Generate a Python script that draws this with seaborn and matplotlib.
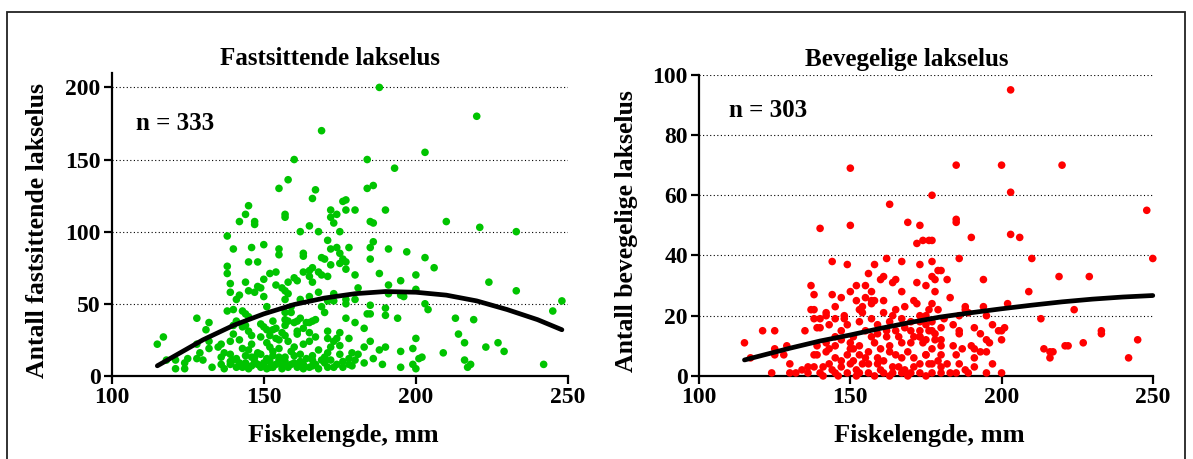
import matplotlib
matplotlib.use("Agg")
import matplotlib.pyplot as plt
import seaborn as sns
import pandas as pd
from matplotlib.patches import Rectangle

# ---------------- data ----------------
fast_x = [188,220,169,203,160,184,193,158,155,167,184,186,166,176,177,145,172,177,180,190,
          144,157,157,174,172,142,147,147,173,185,186,210,221,165,162,168,175,233,138,171,
          186,150,185,146,140,155,172,174,178,191,197,175,155,163,163,169,170,176,185,203,
          145,148,177,138,175,172,206,177,166,165,154,152,138,163,168,188,169,180,200,150,
          160,161,165,171,166,144,158,195,224,139,154,191,148,149,156,181,157,145,147,139,
          168,233,150,200,158,191,195,196,165,173,141,142,157,162,171,173,177,180,177,185,
          203,204,248,245,190,151,159,169,143,144,157,159,138,140,184,185,190,145,194,213,
          219,128,157,166,167,164,165,132,141,158,160,161,180,144,143,157,149,150,183,131,
          151,153,154,171,140,161,161,152,165,214,146,171,174,178,200,132,139,142,154,155,
          157,165,173,185,216,227,151,136,115,117,128,132,135,175,223,199,183,190,188,195,
          229,171,209,129,137,145,153,159,179,181,202,201,216,186,125,128,144,147,149,155,
          160,166,118,121,124,130,140,142,152,157,162,169,178,180,189,199,218,242,121,124,
          133,136,139,141,143,146,148,150,151,153,156,159,163,165,167,173,176,179,183,195,
          200,217,
          137,139,142,144,145,147,149,150,152,154,155,156,158,160,161,163,164,166,168,170,
          171,172,174,176,178,146,151,153,157,162,166,170,136,139,141,148,155,160,163,168,
          175,172,158,152,146,143,149,156,163,167,140,145,153,162,175,177,170]
fast_y = [200,180,170,155,150,150,144,136,130,129,130,132,123,121,122,118,115,115,115,115,
          112,112,110,112,110,107,107,105,106,107,106,107,103,104,100,100,100,100,97,94,
          93,91,89,89,88,88,88,89,89,88,86,85,84,85,83,82,81,81,81,82,
          79,79,79,76,78,77,75,74,75,73,72,71,71,72,72,71,70,70,70,67,
          68,66,69,69,65,65,65,66,65,64,63,63,62,61,61,61,59,59,58,58,
          58,59,55,60,57,57,56,55,55,57,53,56,53,53,52,52,53,53,50,49,
          50,46,52,45,47,48,48,48,45,43,44,44,45,46,43,43,42,41,40,40,
          39,40,39,38,39,37,37,37,38,38,37,38,37,35,34,35,36,34,33,32,
          32,32,33,31,29,31,29,28,30,29,28,26,26,26,26,24,24,25,26,25,
          28,24,24,24,23,23,23,22,22,27,22,19,20,21,20,19,20,20,18,17,
          17,16,16,16,16,18,17,17,16,15,13,12,11,12,12,12,14,13,15,13,
          14,11,11,11,9,11,11,9,10,10,10,11,8,11,8,8,8,8,5,5,
          6,8,8,6,6,7,8,7,5,6,5,8,5,6,8,6,6,7,9,6,
          5,6,
          5,10,7,9,5,10,6,9,6,8,11,7,6,9,6,8,12,7,5,9,
          6,11,8,10,12,13,12,14,13,15,14,13,13,15,12,16,19,20,22,18,
          15,20,24,20,22,19,27,30,33,27,35,31,38,40,30,40,44]

bev_x = [150,177,163,140,150,169,173,172,174,176,177,
         203,185,200,220,203,248,185,185,190,203,206,186,210,250,
         144,149,158,162,167,173,177,179,156,161,160,165,164,177,178,152,155,172,175,137,
         138,144,150,157,167,147,155,157,158,161,171,157,172,137,138,142,145,154,153,161,
         165,168,176,138,140,142,148,148,154,157,163,167,170,174,177,139,140,149,153,159,
         121,125,135,162,165,170,173,176,115,117,125,125,129,128,145,145,150,151,158,157,
         162,163,167,170,173,174,139,142,150,151,156,163,165,175,177,138,139,142,145,149,
         151,155,159,167,173,130,136,138,141,143,147,150,154,156,159,164,166,176,124,130,
         132,136,140,145,149,153,156,161,164,167,170,173,177,
         180,182,194,219,229,178,209,183,177,202,188,194,179,188,189,224,173,175,186,195,
         213,173,175,184,197,201,180,191,177,186,199,200,186,233,233,173,175,178,180,195,
         200,245,180,184,190,196,221,222,227,191,193,195,214,216,217,216,242,175,180,185,
         191,177,180,188,191,180,183,185,189,195,200,
         141,146,152,158,163,169,175,134,144,152,160,168,171,147,153,161,169,171,143,147,
         153,160,166,171,155,159,143,147,164,152,145,168,178,179,182,187,186,197,193,181]
bev_y = [69,60,57,49,50,51,50,44,45,45,45,
         95,70,70,70,61,55,52,51,46,47,46,39,39,39,
         38,37,37,39,38,37,38,35,34,33,32,32,31,33,32,30,30,31,30,30,
         27,27,28,28,28,26,26,25,25,25,25,24,24,22,22,21,23,23,22,21,
         22,23,22,19,19,20,20,19,21,19,18,19,18,19,18,16,16,17,18,17,
         15,15,15,15,15,15,15,15,11,6,9,7,10,7,13,10,11,13,11,13,
         13,10,11,11,13,11,10,11,9,9,8,8,7,7,9,7,7,8,6,7,
         5,6,6,6,4,4,3,3,3,4,3,4,4,4,4,3,3,4,1,1,
         1,1,1,1,1,1,1,1,1,1,1,1,1,
         35,32,32,33,33,28,28,26,24,24,23,23,22,22,21,22,20,20,20,20,
         19,18,17,17,17,16,16,16,15,15,15,15,14,15,14,13,12,12,12,12,
         12,12,10,10,10,11,10,10,11,9,8,8,9,8,8,6,6,7,7,7,
         6,4,3,2,3,1,1,1,1,1,1,
         0,0,0,0,0,0,0,2,2,2,2,2,3,5,7,5,8,6,9,12,
         10,9,13,13,15,14,17,15,20,25,19,16,14,5,4,9,4,4,14,19]

fit_fast_x = [115,120,130,140,150,160,170,180,190,200,210,220,230,240,248]
fit_fast_y = [7,13,25,35,43,49.5,54,57,58.5,58,56,52,46,39,32]
fit_bev_x = [115,120,130,140,150,160,170,180,190,200,210,220,230,240,250]
fit_bev_y = [5.3,6.6,9.2,11.6,13.6,15.8,17.8,19.6,21.0,22.3,23.5,24.6,25.5,26.2,26.7]

titles = ["Fastsittende lakselus", "Bevegelige lakselus"]
ylabels = ["Antall fastsittende lakselus", "Antall bevegelige lakselus"]
xlabel = "Fiskelengde, mm"
n_labels = ["n = 333", "n = 303"]
x_ticks = [100, 150, 200, 250]
fast_yticks = [0, 50, 100, 150, 200]
bev_yticks = [0, 20, 40, 60, 80, 100]

# ---------------- style ----------------
sns.set_theme(style="white")
plt.rcParams['font.family'] = ['Liberation Serif', 'DejaVu Serif']
plt.rcParams['font.weight'] = 'bold'
plt.rcParams['axes.labelweight'] = 'bold'
plt.rcParams['axes.titleweight'] = 'bold'

fig = plt.figure(figsize=(11.93, 4.59), dpi=100)
fig.patch.set_facecolor('white')
fig.patches.append(Rectangle((7.5/1193, -0.05), (1185-7.5)/1193, 1.05 - 11.5/459,
                             transform=fig.transFigure, fill=False,
                             edgecolor='#222222', linewidth=1.3))

ax1 = fig.add_axes([0.0936, 0.181, 0.3825, 0.660])
ax2 = fig.add_axes([0.5860, 0.181, 0.3803, 0.656])

panels = [
    (ax1, fast_x, fast_y, fit_fast_x, fit_fast_y, '#00c400', fast_yticks, (0, 210), 0, (108, 175), 0.478, -0.137),
    (ax2, bev_x, bev_y, fit_bev_x, fit_bev_y, '#ff0000', bev_yticks, (0, 100), 1, (110, 88), 0.458, -0.134),
]

for ax, xs, ys, fx, fy, col, yt, ylim, i, npos, tx, ylx in panels:
    df = pd.DataFrame({'x': xs, 'y': ys})
    fdf = pd.DataFrame({'x': fx, 'y': fy})
    ax.set_facecolor('white')
    sns.scatterplot(data=df, x='x', y='y', ax=ax, color=col, s=30,
                    edgecolor='none', linewidth=0, clip_on=False, zorder=3)
    sns.lineplot(data=fdf, x='x', y='y', ax=ax, color='black', linewidth=3.4,
                 zorder=4, clip_on=False)
    ax.set_xlim(100, 250)
    ax.set_ylim(*ylim)
    ax.set_xticks(x_ticks)
    ax.set_yticks(yt)
    for v in yt[1:]:
        ax.axhline(v, color='black', linestyle=(0, (1, 2.2)), linewidth=0.8, zorder=1)
    for s in ['top', 'right']:
        ax.spines[s].set_visible(False)
    for s in ['left', 'bottom']:
        ax.spines[s].set_color('black')
        ax.spines[s].set_linewidth(1.6)
    ax.tick_params(axis='both', direction='out', length=6, width=1.6, color='black',
                   labelsize=17, pad=2, labelcolor='black')
    ax.tick_params(axis='both', which='both', bottom=True, left=True)
    for lab in ax.get_xticklabels() + ax.get_yticklabels():
        lab.set_fontweight('bold')
    ax.set_xlabel(xlabel, fontsize=19, fontweight='bold', color='black')
    ax.set_ylabel(ylabels[i], fontsize=18.5, fontweight='bold', color='black')
    ax.xaxis.set_label_coords(0.507, -0.16)
    ax.yaxis.set_label_coords(ylx, 0.48)
    ax.set_title(titles[i], fontsize=18, fontweight='bold', color='black',
                 x=tx, pad=6)
    ax.text(npos[0], npos[1], n_labels[i], fontsize=18, fontweight='bold',
            ha='left', va='center', color='black')
    if ax.get_legend():
        ax.get_legend().remove()

fig.savefig('out.png', dpi=100, facecolor='white')
